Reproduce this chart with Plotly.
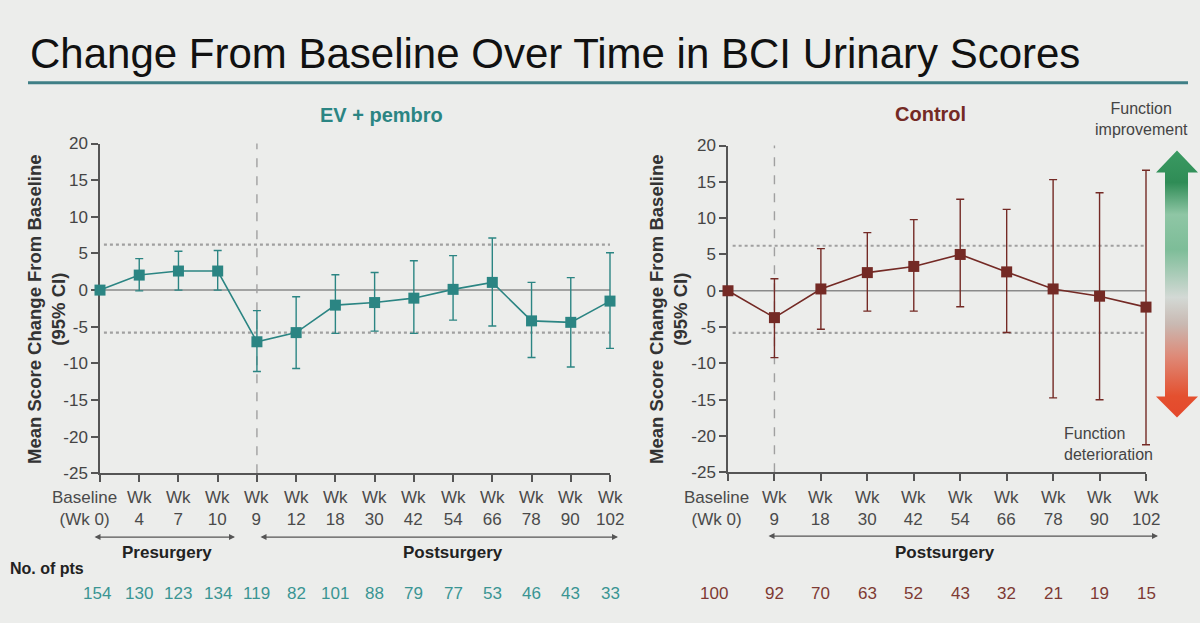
import plotly.graph_objects as go

W, H = 1200, 623

# ---------------- data ----------------
ev_labels = ["Baseline<br>(Wk 0)", "Wk<br>4", "Wk<br>7", "Wk<br>10", "Wk<br>9", "Wk<br>12", "Wk<br>18",
             "Wk<br>30", "Wk<br>42", "Wk<br>54", "Wk<br>66", "Wk<br>78", "Wk<br>90", "Wk<br>102"]
ev_mean = [0, 2.05, 2.6, 2.6, -7.05, -5.8, -2.05, -1.7, -1.1, 0.1, 1.05, -4.2, -4.4, -1.5]
ev_upper = [0, 4.3, 5.3, 5.4, -2.8, -0.9, 2.1, 2.4, 4.0, 4.7, 7.1, 1.05, 1.7, 5.1]
ev_lower = [0, -0.1, 0.0, 0.0, -11.1, -10.7, -5.9, -5.6, -5.9, -4.1, -4.9, -9.2, -10.5, -7.95]
ev_n = [154, 130, 123, 134, 119, 82, 101, 88, 79, 77, 53, 46, 43, 33]

ctl_labels = ["Baseline<br>(Wk 0)", "Wk<br>9", "Wk<br>18", "Wk<br>30", "Wk<br>42", "Wk<br>54",
              "Wk<br>66", "Wk<br>78", "Wk<br>90", "Wk<br>102"]
ctl_mean = [0, -3.7, 0.25, 2.5, 3.35, 5.0, 2.6, 0.25, -0.75, -2.25]
ctl_upper = [0, 1.65, 5.8, 8.0, 9.8, 12.6, 11.2, 15.3, 13.5, 16.6]
ctl_lower = [0, -9.2, -5.3, -2.8, -2.8, -2.2, -5.75, -14.75, -15.0, -21.2]
ctl_n = [100, 92, 70, 63, 52, 43, 32, 21, 19, 15]

mid_upper = 6.2
mid_lower = -5.8
y_ticks = [-25, -20, -15, -10, -5, 0, 5, 10, 15, 20]
y_ticktext = ["-25", "-20", "-15", "-10", "-5", "0", "5", "10", "15", "20"]
Y_MIN, Y_MAX = -25, 20
ev_surgery_idx = 4
ctl_surgery_idx = 1

# ---------------- style ----------------
TEAL = "#2b8583"
TEAL_TXT = "#3a9593"
BROWN = "#742a25"
BROWN_TXT = "#7e3a33"
BG = "#ecedeb"
AX = "#555555"
FONT = "Liberation Sans, Arial, sans-serif"

# vertical calibration of the photographed page
OY, SY = 8.0, 0.973


def fy(pix):
    return 1 - ((pix - OY) / SY) / H


def fx(pix):
    return pix / W


# panel geometry (pixels)
PANELS = {
    "ev": dict(x0=100, x1=610, ytop=143, ybot=474, n=len(ev_labels)),
    "ctl": dict(x0=728, x1=1146, ytop=145, ybot=473, n=len(ctl_labels)),
}
PADX, PADY = 30, 20

fig = go.Figure()

common_x = dict(showline=True, linecolor=AX, linewidth=1.5, ticks="outside", ticklen=7,
                tickcolor=AX, tickwidth=1.5, showgrid=False, zeroline=False,
                showticklabels=False, fixedrange=True)
common_y = dict(showline=True, linecolor=AX, linewidth=1.5, ticks="outside", ticklen=7,
                tickcolor=AX, tickwidth=1.5, showgrid=False, zeroline=False,
                range=[Y_MIN, Y_MAX], tickvals=y_ticks, ticktext=y_ticktext, fixedrange=True,
                tickfont=dict(family=FONT, size=17, color="#444"))

layout_axes = {}
for key, (xa, ya, xe, ye) in (("ev", ("xaxis", "yaxis", "xaxis4", "yaxis4")),
                              ("ctl", ("xaxis2", "yaxis2", "xaxis5", "yaxis5"))):
    p = PANELS[key]
    n = p["n"]
    ux = (p["x1"] - p["x0"]) / (n - 1)
    uy = (p["ybot"] - p["ytop"]) / (Y_MAX - Y_MIN)
    xdom = [fx(p["x0"]), fx(p["x1"])]
    ydom = [fy(p["ybot"]), fy(p["ytop"])]
    layout_axes[xa] = dict(domain=xdom, range=[0, n - 1], tickvals=list(range(n)),
                           anchor=ya.replace("axis", ""), **common_x)
    layout_axes[ya] = dict(domain=ydom, anchor=xa.replace("axis", ""), **common_y)
    layout_axes[xe] = dict(domain=[fx(p["x0"] - PADX), fx(p["x1"] + PADX)],
                           range=[-PADX / ux, n - 1 + PADX / ux], visible=False,
                           anchor=ye.replace("axis", ""), fixedrange=True)
    layout_axes[ye] = dict(domain=[fy(p["ybot"] + PADY), fy(p["ytop"] - PADY)],
                           range=[Y_MIN - PADY / uy, Y_MAX + PADY / uy], visible=False,
                           anchor=xe.replace("axis", ""), fixedrange=True)

# overlay axis in (calibrated) pixel units
layout_axes["xaxis3"] = dict(domain=[0, 1], range=[0, W], visible=False, anchor="y3", fixedrange=True)
layout_axes["yaxis3"] = dict(domain=[0, 1], range=[OY + SY * H, OY], visible=False, anchor="x3",
                             fixedrange=True)

fig.update_layout(width=W, height=H, margin=dict(l=0, r=0, t=0, b=0),
                  paper_bgcolor=BG, plot_bgcolor="rgba(0,0,0,0)", **layout_axes)

# invisible anchors so visible axes render
for xa, ya in (("x", "y"), ("x2", "y2")):
    fig.add_trace(go.Scatter(x=[0], y=[0], mode="markers", marker=dict(opacity=0),
                             showlegend=False, hoverinfo="skip", xaxis=xa, yaxis=ya))


def series(n, mean, upper, lower, color, xa, ya):
    xs = list(range(n))
    fig.add_trace(go.Scatter(
        x=xs, y=mean, mode="lines+markers",
        line=dict(color=color, width=1.6),
        marker=dict(symbol="square", size=11, color=color),
        error_y=dict(type="data", symmetric=False,
                     array=[u - m for u, m in zip(upper, mean)],
                     arrayminus=[m - l for m, l in zip(mean, lower)],
                     color=color, thickness=1.4, width=4),
        cliponaxis=False, showlegend=False, hoverinfo="skip",
        xaxis=xa, yaxis=ya))


series(len(ev_labels), ev_mean, ev_upper, ev_lower, TEAL, "x4", "y4")
series(len(ctl_labels), ctl_mean, ctl_upper, ctl_lower, BROWN, "x5", "y5")

# gradient double arrow (decoration) on pixel overlay axis
arrow_x = [1177, 1198, 1188, 1188, 1198, 1177, 1156, 1165, 1165, 1156, 1177]
arrow_y = [150, 172, 172, 397, 397, 418, 397, 397, 172, 172, 150]
fig.add_trace(go.Scatter(
    x=arrow_x, y=arrow_y, mode="lines", fill="toself",
    line=dict(width=0, color="rgba(0,0,0,0)"),
    fillgradient=dict(type="vertical", colorscale=[
        [0.0, "#e4482c"], [0.08, "#e4502f"], [0.23, "#de8a78"], [0.35, "#c9b9b2"],
        [0.45, "#d3d9d5"], [0.63, "#7dbd98"], [0.76, "#8fc6a5"], [0.88, "#2f8c56"],
        [1.0, "#3a9a62"]]),
    showlegend=False, hoverinfo="skip", xaxis="x3", yaxis="y3"))

shapes = []
for xa, ya, n, sidx in (("x", "y", len(ev_labels), ev_surgery_idx),
                         ("x2", "y2", len(ctl_labels), ctl_surgery_idx)):
    shapes.append(dict(type="line", xref=xa, yref=ya, x0=0, x1=n - 1, y0=0, y1=0,
                       line=dict(color="#8a8a8a", width=1.5), layer="below"))
    for v in (mid_upper, mid_lower):
        shapes.append(dict(type="line", xref=xa, yref=ya, x0=0.1, x1=n - 1, y0=v, y1=v,
                           line=dict(color="#a0a0a0", width=2.2, dash="dot"), layer="below"))
    shapes.append(dict(type="line", xref=xa, yref=ya, x0=sidx, x1=sidx, y0=Y_MIN, y1=20.4,
                       line=dict(color="#a0a0a0", width=1.4, dash="dash"), layer="below"))
# title underline
shapes.append(dict(type="line", xref="x3", yref="y3", x0=28, x1=1188, y0=82, y1=82,
                   line=dict(color="#3f7f86", width=3)))
fig.update_layout(shapes=shapes)

ann = []
ann.append(dict(xref="x3", yref="y3", x=28, y=52.5, xanchor="left", yanchor="middle",
                text="Change From Baseline Over Time in BCI Urinary Scores", showarrow=False,
                font=dict(family=FONT, size=42, color="#111")))
ann.append(dict(xref="x3", yref="y3", x=381, y=114, text="<b>EV + pembro</b>", showarrow=False,
                font=dict(family=FONT, size=20, color=TEAL)))
ann.append(dict(xref="x3", yref="y3", x=930, y=113, text="<b>Control</b>", showarrow=False,
                font=dict(family=FONT, size=20, color=BROWN)))
for xc, yc in ((47, 310), (669, 310)):
    ann.append(dict(xref="x3", yref="y3", x=xc, y=yc, textangle=-90, showarrow=False,
                    text="<b>Mean Score Change From Baseline<br>(95% CI)</b>",
                    font=dict(family=FONT, size=18.5, color="#333")))
for xa, labels, bshift in (("x", ev_labels, -16), ("x2", ctl_labels, -12)):
    for i, lab in enumerate(labels):
        ann.append(dict(xref=xa, yref="y3", x=i, y=487, xanchor="center", yanchor="top",
                        xshift=bshift if i == 0 else 0, text=lab, showarrow=False,
                        font=dict(family=FONT, size=17, color="#4a4a4a")))
ann.append(dict(xref="x3", yref="y3", x=8, y=570, xanchor="left", text="<b>No. of pts</b>",
                showarrow=False, font=dict(family=FONT, size=16, color="#222")))
for xa, nums, col, bshift in (("x", ev_n, TEAL_TXT, -3), ("x2", ctl_n, BROWN_TXT, -14)):
    for i, v in enumerate(nums):
        ann.append(dict(xref=xa, yref="y3", x=i, y=595, xshift=bshift if i == 0 else 0,
                        text=str(v), showarrow=False,
                        font=dict(family=FONT, size=17, color=col)))
for x0, x1, yy in ((93, 235, 538), (259, 618, 538), (767, 1158, 537)):
    ann.append(dict(xref="x3", yref="y3", axref="x3", ayref="y3", x=x1, y=yy, ax=x0, ay=yy,
                    text="", showarrow=True, arrowhead=2, arrowside="end+start", arrowsize=1,
                    arrowwidth=1.2, arrowcolor="#555"))
for xc, txt in ((167, "Presurgery"), (453, "Postsurgery"), (945, "Postsurgery")):
    ann.append(dict(xref="x3", yref="y3", x=xc, y=553, text="<b>" + txt + "</b>", showarrow=False,
                    font=dict(family=FONT, size=17, color="#222")))
ann.append(dict(xref="x3", yref="y3", x=1141, y=118.5, text="Function<br>improvement", showarrow=False,
                font=dict(family=FONT, size=16, color="#444")))
ann.append(dict(xref="x3", yref="y3", x=1062, y=444.5, xanchor="left", align="left",
                text="Function<br>deterioration", showarrow=False,
                font=dict(family=FONT, size=16, color="#444")))
fig.update_layout(annotations=ann)

fig.write_html("out.html")
